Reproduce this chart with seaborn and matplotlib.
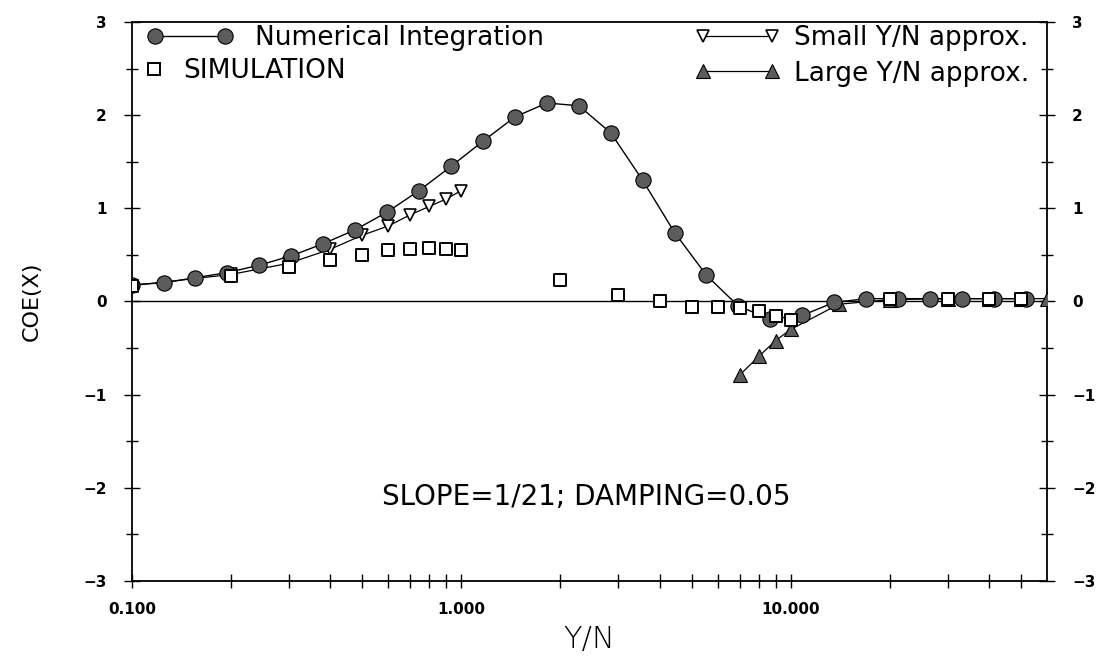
import matplotlib
matplotlib.use("Agg")
import matplotlib.pyplot as plt
import seaborn as sns
from matplotlib.lines import Line2D
from matplotlib.ticker import FixedLocator, FixedFormatter, NullFormatter

# ---- data ----
num_x = [0.100, 0.125, 0.156, 0.195, 0.244, 0.305, 0.381, 0.477, 0.596, 0.745,
         0.931, 1.164, 1.455, 1.819, 2.274, 2.842, 3.553, 4.441, 5.551, 6.939,
         8.674, 10.84, 13.55, 16.94, 21.18, 26.47, 33.09, 41.36, 51.70]
num_y = [0.18, 0.20, 0.255, 0.31, 0.39, 0.49, 0.62, 0.77, 0.96, 1.19,
         1.45, 1.72, 1.98, 2.13, 2.10, 1.81, 1.30, 0.74, 0.28, -0.05,
         -0.19, -0.15, -0.01, 0.03, 0.03, 0.03, 0.03, 0.03, 0.03]

sim_x = [0.1, 0.2, 0.3, 0.4, 0.5, 0.6, 0.7, 0.8, 0.9, 1.0,
         2, 3, 4, 5, 6, 7, 8, 9, 10, 20, 30, 40, 50]
sim_y = [0.17, 0.27, 0.37, 0.445, 0.50, 0.55, 0.56, 0.57, 0.56, 0.55,
         0.23, 0.07, 0.0, -0.06, -0.06, -0.07, -0.10, -0.16, -0.20, 0.03, 0.03, 0.03, 0.03]

small_x = [0.1, 0.2, 0.3, 0.4, 0.5, 0.6, 0.7, 0.8, 0.9, 1.0]
small_y = [0.17, 0.29, 0.41, 0.56, 0.71, 0.81, 0.93, 1.02, 1.10, 1.19]

large_x = [7, 8, 9, 10, 14, 20, 30, 40, 50, 60]
large_y = [-0.79, -0.59, -0.42, -0.30, -0.03, 0.02, 0.03, 0.03, 0.03, 0.03]

x_major = [0.1, 1.0, 10.0]
x_major_labels = ["0.100", "1.000", "10.000"]
x_minor = [0.2, 0.3, 0.4, 0.5, 0.6, 0.7, 0.8, 0.9, 2, 3, 4, 5, 6, 7, 8, 9, 20, 30, 40, 50]
y_major = [-3, -2, -1, 0, 1, 2, 3]
y_minor = [-2.5, -1.5, -0.5, 0.5, 1.5, 2.5]

sns.set_style("ticks")
plt.rcParams['font.family'] = ['DejaVu Sans']
plt.rcParams['text.color'] = 'black'
plt.rcParams['axes.labelcolor'] = 'black'
plt.rcParams['xtick.color'] = 'black'
plt.rcParams['ytick.color'] = 'black'

fig = plt.figure(figsize=(10.99, 6.64), dpi=100)
ax = fig.add_axes([0.120, 0.125, 0.8327, 0.842])

ax.axhline(0, color="black", lw=1.0, zorder=1)

gray = "#5c5c5c"
sns.lineplot(x=small_x, y=small_y, ax=ax, color="black", lw=0.9, marker="v",
             markersize=8, markerfacecolor="white", markeredgecolor="black",
             markeredgewidth=1.2, estimator=None, sort=False, zorder=3)
sns.lineplot(x=large_x, y=large_y, ax=ax, color="black", lw=0.9, marker="^",
             markersize=10, markerfacecolor=gray, markeredgecolor="black",
             markeredgewidth=0.8, estimator=None, sort=False, zorder=3)
sns.lineplot(x=num_x, y=num_y, ax=ax, color="black", lw=1.0, marker="o",
             markersize=11, markerfacecolor=gray, markeredgecolor="black",
             markeredgewidth=0.8, estimator=None, sort=False, zorder=4)
sns.scatterplot(x=sim_x, y=sim_y, ax=ax, marker="s", s=75, facecolor="white",
                edgecolor="black", linewidth=1.4, zorder=5)

ax.set_xscale("log")
ax.set_xlim(0.1, 60)
ax.set_ylim(-3, 3)

ax.xaxis.set_major_locator(FixedLocator(x_major))
ax.xaxis.set_major_formatter(FixedFormatter(x_major_labels))
ax.xaxis.set_minor_locator(FixedLocator(x_minor))
ax.xaxis.set_minor_formatter(NullFormatter())
ax.yaxis.set_major_locator(FixedLocator(y_major))
ax.yaxis.set_minor_locator(FixedLocator(y_minor))

ax.tick_params(axis="x", which="both", direction="inout", length=10, width=1.0,
               top=False, bottom=True, pad=10, labelsize=11)
ax.tick_params(axis="y", which="major", direction="inout", length=12, width=1.0,
               left=True, right=True, labelleft=True, labelright=True, pad=12, labelsize=11)
ax.tick_params(axis="y", which="minor", direction="inout", length=8, width=1.0,
               left=True, right=True)
for lab in ax.get_xticklabels() + ax.get_yticklabels():
    lab.set_fontweight("bold")
for sp in ax.spines.values():
    sp.set_linewidth(1.3)
    sp.set_color("black")

ax.set_xlabel("Y/N", fontsize=22, fontweight="light", labelpad=6)
ax.set_ylabel("COE(X)", fontsize=16, labelpad=30)

ax.text(0.497, 0.150, "SLOPE=1/21; DAMPING=0.05", transform=ax.transAxes,
        ha="center", va="center", fontsize=20)

# ---- legends ----
h_num = Line2D([], [], color="black", lw=1.0, marker="o", markersize=11,
               markerfacecolor=gray, markeredgecolor="black", markeredgewidth=0.8)
h_sim = Line2D([], [], ls="none", marker="s", markersize=8,
               markerfacecolor="white", markeredgecolor="black", markeredgewidth=1.4)
h_small = Line2D([], [], color="black", lw=0.9, marker="v", markersize=8,
                 markerfacecolor="white", markeredgecolor="black", markeredgewidth=1.2)
h_large = Line2D([], [], color="black", lw=0.9, marker="^", markersize=10,
                 markerfacecolor=gray, markeredgecolor="black", markeredgewidth=0.8)

lfs = 19
leg1 = ax.legend([h_num], ["Numerical Integration"], loc="center left",
                 bbox_to_anchor=(0.0164, 0.971), numpoints=2, handlelength=3.25,
                 handletextpad=0.83, frameon=False, fontsize=lfs,
                 borderaxespad=0, borderpad=0)
ax.add_artist(leg1)
leg2 = ax.legend([h_sim], ["SIMULATION"], loc="center left",
                 bbox_to_anchor=(0.01, 0.912), numpoints=1, handlelength=1.0,
                 handletextpad=0.6, frameon=False, fontsize=lfs,
                 borderaxespad=0, borderpad=0)
ax.add_artist(leg2)
leg3 = ax.legend([h_small, h_large], ["Small Y/N approx.", "Large Y/N approx."],
                 loc="upper right", bbox_to_anchor=(0.981, 0.994), numpoints=2,
                 handlelength=3.25, handletextpad=0.53, frameon=False, fontsize=lfs,
                 labelspacing=0.35, borderaxespad=0, borderpad=0)

fig.savefig("out.png", dpi=100)
